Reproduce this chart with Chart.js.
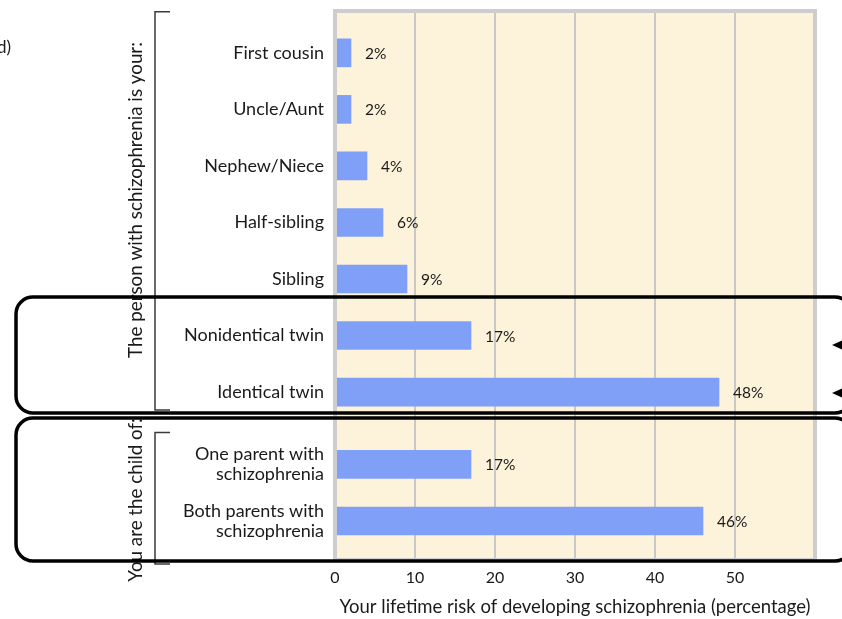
<!DOCTYPE html>
<html>
<head>
<meta charset="utf-8">
<script src="https://cdn.jsdelivr.net/npm/chart.js@4/dist/chart.umd.min.js"></script>
<style>
  html, body { margin: 0; padding: 0; background: #ffffff; }
  #wrap { width: 842px; height: 619px; }
</style>
</head>
<body>
<div id="wrap"><canvas id="c" width="842" height="619"></canvas></div>
<script>
// Relatives with schizophrenia and the lifetime risk for you (percent)
const categories = [
  'First cousin', 'Uncle/Aunt', 'Nephew/Niece', 'Half-sibling', 'Sibling',
  'Nonidentical twin', 'Identical twin',
  ['One parent with', 'schizophrenia'], ['Both parents with', 'schizophrenia']
];
const risk = [2, 2, 4, 6, 9, 17, 48, 17, 46];
const groups = ['relative', 'relative', 'relative', 'relative', 'relative', 'relative', 'relative', 'parent', 'parent'];
const groupTitles = { relative: 'The person with schizophrenia is your:', parent: 'You are the child of:' };
const xTicks = [0, 10, 20, 30, 40, 50];
const xTitle = 'Your lifetime risk of developing schizophrenia (percentage)';
const panelLabel = '(d)';

const FONT = 'Lato, "Noto Sans", sans-serif';
const TEXT = '#1a1a1a';
const GROUP_GAP = 0.28;   // extra space between the two groups of rows

// row slot on the index axis: the parent group sits a little further down
const slots = categories.map((_, i) => i + (groups[i] === 'parent' ? GROUP_GAP : 0));

const panelPlugin = {
  id: 'panel',
  beforeDraw(chart) {
    const { ctx, chartArea: a } = chart;
    ctx.save();
    ctx.fillStyle = '#fdf2da';
    ctx.fillRect(a.left, a.top, a.right - a.left, a.bottom - a.top);
    ctx.restore();
  },
  afterDatasetsDraw(chart) {
    const { ctx, chartArea: a } = chart;
    ctx.save();
    // grey frame of the plot
    ctx.strokeStyle = '#cdcdcd';
    ctx.lineWidth = 4;
    ctx.strokeRect(a.left, a.top, a.right - a.left, a.bottom - a.top);

    // value labels next to bars
    ctx.fillStyle = TEXT;
    ctx.font = '15.5px ' + FONT;
    ctx.textAlign = 'left';
    ctx.textBaseline = 'middle';
    chart.getDatasetMeta(0).data.forEach((bar, i) => {
      ctx.fillText(risk[i] + '%', bar.x + 14, bar.y + 1);
    });
    ctx.restore();
  },
  afterDraw(chart) {
    const { ctx } = chart;
    const y = chart.scales.y;
    ctx.save();

    // group brackets and rotated group titles
    ['relative', 'parent'].forEach(g => {
      const idx = groups.map((v, i) => v === g ? i : -1).filter(i => i >= 0);
      const first = y.getPixelForValue(slots[idx[0]]);
      const last = y.getPixelForValue(slots[idx[idx.length - 1]]);
      const top = g === 'relative' ? first - 41 : first - 32;
      const bottom = g === 'relative' ? last + 18 : last + 43;
      ctx.strokeStyle = '#3a3a3a';
      ctx.lineWidth = 1.5;
      ctx.beginPath();
      ctx.moveTo(170, top);
      ctx.lineTo(155, top);
      ctx.lineTo(155, bottom);
      ctx.lineTo(170, bottom);
      ctx.stroke();

      ctx.fillStyle = TEXT;
      ctx.font = '18.8px ' + FONT;
      ctx.textAlign = 'center';
      ctx.textBaseline = 'middle';
      ctx.save();
      const cy = g === 'relative' ? 200 : 500;
      ctx.translate(136, cy);
      ctx.rotate(-Math.PI / 2);
      ctx.fillText(groupTitles[g], 0, 0);
      ctx.restore();
    });

    // rounded outlines around the twin rows and the parent rows
    ctx.strokeStyle = '#000000';
    ctx.lineWidth = 3.5;
    const boxes = [[16, 297, 413], [16, 418, 561]];
    boxes.forEach(([x, t, b]) => {
      ctx.beginPath();
      ctx.roundRect(x, t, 852 - x, b - t, 17);
      ctx.stroke();
    });

    // pointers at the right edge
    ctx.fillStyle = '#000000';
    [345, 393].forEach(py => {
      ctx.beginPath();
      ctx.moveTo(832, py);
      ctx.lineTo(843, py - 5);
      ctx.lineTo(843, py + 5);
      ctx.closePath();
      ctx.fill();
    });

    // panel letter
    ctx.fillStyle = TEXT;
    ctx.font = '17px ' + FONT;
    ctx.textAlign = 'right';
    ctx.textBaseline = 'middle';
    ctx.fillText(panelLabel, 11, 48);
    ctx.restore();
  }
};

new Chart(document.getElementById('c'), {
  type: 'bar',
  data: {
    datasets: [{
      data: risk.map((v, i) => ({ x: v, y: slots[i] })),
      backgroundColor: '#80a0f8',
      borderWidth: 0,
      barThickness: 28
    }]
  },
  options: {
    indexAxis: 'y',
    responsive: false,
    animation: false,
    devicePixelRatio: 1,
    layout: { padding: { top: 11, right: 27, left: 0, bottom: 0 } },
    plugins: { legend: { display: false }, tooltip: { enabled: false } },
    scales: {
      x: {
        type: 'linear',
        min: 0,
        max: 60,
        afterBuildTicks: s => { s.ticks = xTicks.map(v => ({ value: v })); },
        afterFit: s => { s.height = 59; s.paddingLeft = 0; s.paddingRight = 0; },
        grid: { color: '#c8c8c8', lineWidth: 2, drawTicks: false },
        border: { display: false },
        ticks: { color: TEXT, font: { family: FONT, size: 16 }, padding: 8, maxRotation: 0 },
        title: {
          display: true,
          text: xTitle,
          color: TEXT,
          font: { family: FONT, size: 18.5 },
          padding: { top: 0, bottom: 1 }
        }
      },
      y: {
        type: 'linear',
        reverse: true,
        offset: false,
        min: -0.74,
        max: 8.97,
        afterBuildTicks: s => { s.ticks = slots.map(v => ({ value: v })); },
        afterFit: s => { s.width = 335; s.paddingTop = 0; s.paddingBottom = 0; },
        grid: { display: false, drawTicks: false },
        border: { display: false },
        ticks: {
          autoSkip: false,
          color: TEXT,
          font: { family: FONT, size: 18, lineHeight: 1.1 },
          padding: 11,
          callback: (v, i) => categories[i]
        }
      }
    }
  },
  plugins: [panelPlugin]
});
</script>
</body>
</html>
